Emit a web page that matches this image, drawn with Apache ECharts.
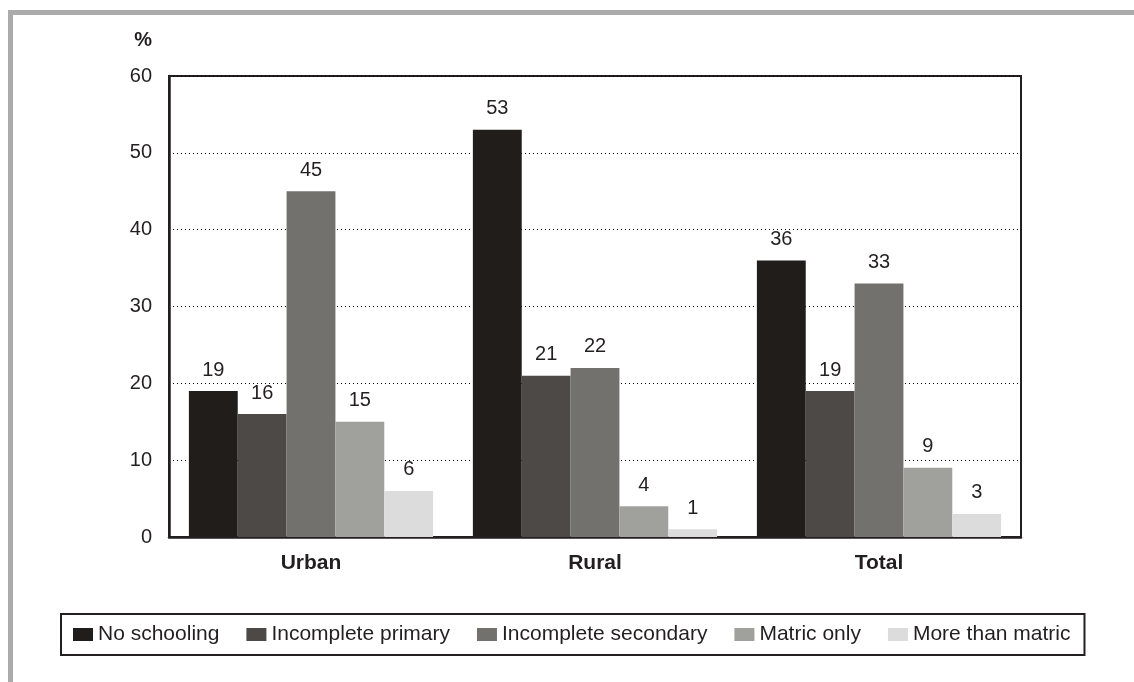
<!DOCTYPE html>
<html>
<head>
<meta charset="utf-8">
<script src="https://cdn.jsdelivr.net/npm/echarts@6/dist/echarts.min.js"></script>
<style>
  html, body { margin: 0; padding: 0; background: #fff; }
  #chart { width: 1134px; height: 682px; }
</style>
</head>
<body>
<div id="chart"></div>
<script>
// Education level by area (%)
const categories = ['Urban', 'Rural', 'Total'];
const seriesNames = ['No schooling', 'Incomplete primary', 'Incomplete secondary', 'Matric only', 'More than matric'];
const noSchooling = [19, 53, 36];
const incompletePrimary = [16, 21, 19];
const incompleteSecondary = [45, 22, 33];
const matricOnly = [15, 4, 9];
const moreThanMatric = [6, 1, 3];
const yTicks = [0, 10, 20, 30, 40, 50, 60];

const values = [noSchooling, incompletePrimary, incompleteSecondary, matricOnly, moreThanMatric];
const colors = ['#211d1a', '#4d4947', '#72716e', '#a0a19c', '#dcdcdc'];
const ink = '#231f20';
const font = '"Liberation Sans", Arial, Helvetica, sans-serif';

const chart = echarts.init(document.getElementById('chart'), null, { renderer: 'canvas' });

chart.setOption({
  animation: false,
  backgroundColor: '#ffffff',
  textStyle: { fontFamily: font },
  graphic: [
    // grey frame along the top and left edges
    { type: 'rect', shape: { x: 8, y: 10, width: 1126, height: 5 }, style: { fill: '#ababab' }, silent: true },
    { type: 'rect', shape: { x: 8, y: 10, width: 5, height: 672 }, style: { fill: '#ababab' }, silent: true }
  ],
  grid: {
    left: 169, right: 113, top: 76, bottom: 145,
    show: true, borderColor: ink, borderWidth: 2, backgroundColor: 'transparent'
  },
  legend: {
    data: seriesNames,
    left: 61, top: 614,
    orient: 'horizontal',
    icon: 'rect',
    itemWidth: 20, itemHeight: 13,
    itemGap: 27,
    padding: [10, 14, 10, 12],
    borderColor: ink, borderWidth: 2,
    textStyle: { fontFamily: font, fontSize: 21, color: ink }
  },
  xAxis: {
    type: 'category',
    data: categories,
    axisLine: { lineStyle: { color: ink, width: 2.5 } },
    axisTick: { show: false },
    axisLabel: { fontFamily: font, fontSize: 21, fontWeight: 'bold', color: ink, margin: 16 }
  },
  yAxis: {
    type: 'value',
    min: yTicks[0], max: yTicks[yTicks.length - 1], interval: 10,
    name: '%',
    nameLocation: 'end',
    nameGap: 36,
    nameTextStyle: { fontFamily: font, fontSize: 20, fontWeight: 'bold', color: ink,
      align: 'right', verticalAlign: 'middle', padding: [0, 17, 0, 0] },
    axisLine: { show: true, lineStyle: { color: ink, width: 2.5 } },
    axisTick: { show: false },
    axisLabel: { fontFamily: font, fontSize: 20, color: ink, margin: 17 },
    splitLine: { show: true, lineStyle: { color: '#000', width: 1, type: [1, 3] } }
  },
  series: seriesNames.map((name, i) => ({
    name: name,
    type: 'bar',
    data: values[i],
    barGap: 0,
    barCategoryGap: '14%',
    itemStyle: { color: colors[i] },
    label: {
      show: true, position: 'top', distance: 11,
      fontFamily: font, fontSize: 20, color: ink
    }
  }))
});
</script>
</body>
</html>
